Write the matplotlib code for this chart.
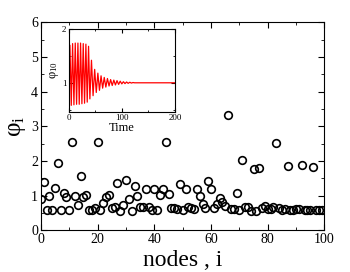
import matplotlib
matplotlib.use('Agg')
import matplotlib.pyplot as plt
from matplotlib.ticker import MultipleLocator

plt.rcParams['font.family'] = ['Liberation Serif', 'DejaVu Serif']
plt.rcParams['mathtext.fontset'] = 'custom'
plt.rcParams['mathtext.rm'] = 'Liberation Serif'
plt.rcParams['mathtext.it'] = 'Liberation Serif:italic'

# phi_i for every node
nodes = list(range(100))
phi = [0.91, 1.39, 0.60, 1.00, 0.60, 1.23, 1.95, 0.58, 1.07, 0.96,
       0.60, 2.55, 1.00, 0.73, 1.56, 0.96, 1.03, 0.60, 0.60, 0.65,
       2.55, 0.58, 0.80, 0.95, 1.03, 0.65, 0.66, 1.38, 0.57, 0.74,
       1.44, 0.91, 0.56, 1.29, 1.00, 0.67, 0.67, 1.20, 0.67, 0.60,
       1.20, 0.58, 1.03, 1.20, 2.55, 1.04, 0.64, 0.65, 0.62, 1.34,
       0.60, 1.20, 0.67, 0.65, 0.62, 1.20, 1.00, 0.75, 0.64, 1.41,
       1.20, 0.65, 0.75, 0.94, 0.83, 0.71, 3.34, 0.62, 0.62, 1.07,
       0.60, 2.04, 0.67, 0.67, 0.57, 1.78, 0.57, 1.81, 0.64, 0.69,
       0.62, 0.62, 0.67, 2.52, 0.64, 0.60, 0.62, 1.85, 0.60, 0.60,
       0.62, 0.62, 1.89, 0.58, 0.60, 0.60, 1.82, 0.58, 0.60, 0.60]

# inset: phi_10 vs time, turning points of the oscillation
t_ext = [0, 2.5, 5, 7.5, 10, 12.5, 15, 17.5, 20, 22.5, 25, 27.5, 30, 32.5,
         35, 37.5, 40, 43, 46, 49, 52, 55, 58, 61, 64, 67, 70, 73, 76, 79,
         82, 85, 88, 91, 94, 97, 100, 103, 106, 109, 112, 115, 118, 121,
         124, 200]
phi10_ext = [0.55, 1.70, 0.58, 1.73, 0.59, 1.74, 0.60, 1.74, 0.60, 1.74,
             0.61, 1.73, 0.62, 1.72, 0.64, 1.68, 0.70, 1.42, 0.76, 1.25,
             0.82, 1.18, 0.86, 1.13, 0.90, 1.10, 0.92, 1.08, 0.94, 1.06,
             0.95, 1.05, 0.96, 1.04, 0.97, 1.03, 0.98, 1.02, 0.985, 1.015,
             0.99, 1.01, 0.995, 1.005, 1.0, 1.0]

fig = plt.figure(figsize=(3.5, 2.72), dpi=100)
ax = fig.add_axes([0.117, 0.153, 0.81, 0.765])
ax.plot(nodes, phi, 'o', mfc='none', mec='black', ms=5.5, mew=1.2)
ax.set_xlim(0, 100)
ax.set_ylim(0, 6)
ax.xaxis.set_major_locator(MultipleLocator(20))
ax.xaxis.set_minor_locator(MultipleLocator(10))
ax.yaxis.set_major_locator(MultipleLocator(1))
ax.yaxis.set_minor_locator(MultipleLocator(0.5))
ax.tick_params(which='both', direction='in', top=True, right=True,
               labelsize=10, pad=2)
ax.tick_params(which='major', length=4)
ax.tick_params(which='minor', length=2)
ax.set_xlabel('nodes , i', fontsize=17, labelpad=3)
ax.set_ylabel(r'$\mathrm{φ}_\mathrm{i}$', fontsize=18, labelpad=2)

ins = fig.add_axes([0.196, 0.589, 0.304, 0.304])
ins.plot(t_ext, phi10_ext, color='red', lw=0.9)
ins.set_xlim(0, 200)
ins.set_ylim(0.46, 2)
ins.xaxis.set_major_locator(MultipleLocator(100))
ins.xaxis.set_minor_locator(MultipleLocator(50))
ins.yaxis.set_major_locator(MultipleLocator(1))
ins.yaxis.set_minor_locator(MultipleLocator(0.5))
ins.tick_params(which='both', direction='in', top=True, right=True,
                labelsize=6.5, pad=1.5)
ins.tick_params(which='major', length=3)
ins.tick_params(which='minor', length=1.5)
ins.set_xlabel('Time', fontsize=9, labelpad=0)
ins.set_ylabel(r'$\mathrm{φ}_{10}$', fontsize=9, labelpad=1)

fig.savefig('out.png', dpi=100)
